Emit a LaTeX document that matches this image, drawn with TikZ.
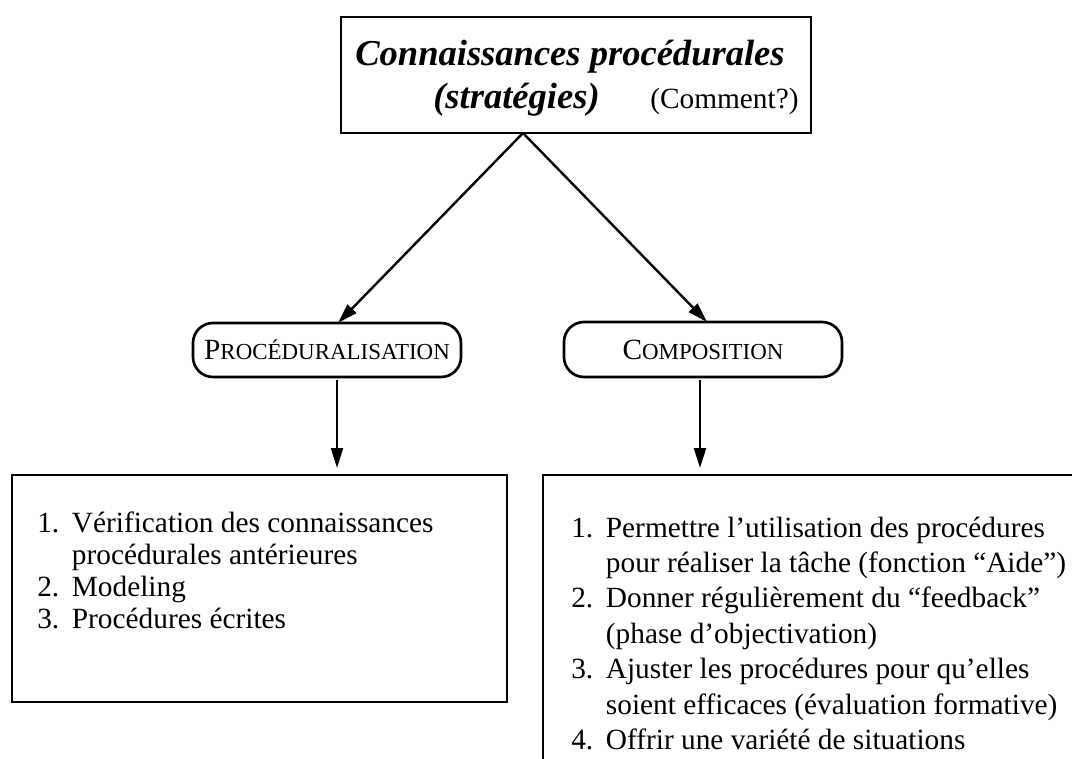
\documentclass[tikz,border=0pt]{standalone}
\usepackage{fontspec}
\setmainfont{Liberation Serif}
\usetikzlibrary{arrows.meta}
\newlength\px \setlength\px{0.75pt}
\newcommand\myitm[1]{\makebox[26pt][l]{#1}}
\newcommand\mytitlefont{\fontsize{27.4}{32}\selectfont\bfseries\itshape}
\newcommand\mybodyfont{\fontsize{22}{24}\selectfont}
\newcommand\myrfont{\fontsize{22}{26.6}\selectfont}
\newcommand\mysc{\fontsize{17.2}{20}\selectfont}
\begin{document}
\begin{tikzpicture}[x=0.75pt,y=-0.75pt,
  box/.style={draw, line width=2.2pt, inner sep=0pt, outer sep=0pt},
  pill/.style={draw, line width=2pt, rounded corners=15pt, inner sep=0pt, outer sep=0pt, font=\mybodyfont},
  arr/.style={line width=1.8pt, -{Triangle[length=15pt,width=9pt]}},
  txt/.style={inner sep=0pt, anchor=base west},
]
\useasboundingbox (0,0) rectangle (1072,758);
\clip (0,0) rectangle (1072,758);
% top box
\node[box, minimum width=470\px, minimum height=116\px] (top) at (576,75) {};
\node[txt, anchor=base, font=\mytitlefont] (t1) at (570,65) {Connaissances procédurales};
\node[txt, font=\mytitlefont] (t2) at (433,108) {(stratégies)};
\node[txt, font=\mybodyfont] (t3) at (650,108) {(Comment?)};
% pills
\node[pill, minimum width=268\px, minimum height=54\px] (proc) at (327,350) {P{\mysc ROCÉDURALISATION}};
\node[pill, minimum width=278\px, minimum height=55\px] (comp) at (703,349.5) {C{\mysc OMPOSITION}};
% diagonal arrows
\coordinate (apex) at (523,133);
\draw[arr] (apex) -- ([xshift=11\px]proc.north);
\draw[arr] (apex) -- ([xshift=4\px]comp.north);
% bottom boxes
\node[box, minimum width=495\px, minimum height=227\px] (lbox) at (259.5,588.5) {};
\node[box, minimum width=557\px, minimum height=315\px] (rbox) at (821.5,632.5) {};
% down arrows
\coordinate (d1) at ([xshift=10\px,yshift=-3\px]proc.south);
\draw[arr, shorten >=7\px] (d1) -- (d1 |- lbox.north);
\coordinate (d2) at ([xshift=-3\px,yshift=-3\px]comp.south);
\draw[arr, shorten >=7\px] (d2) -- (d2 |- rbox.north);
% texts
\node[txt, font=\mybodyfont] (ltext) at (37,532) {\begin{tabular}[t]{@{}l@{}}
\myitm{1.}Vérification des connaissances\\
\myitm{}procédurales antérieures\\
\myitm{2.}Modeling\\
\myitm{3.}Procédures écrites
\end{tabular}};
\node[txt, font=\myrfont] (rtext) at (571,537) {\begin{tabular}[t]{@{}l@{}}
\myitm{1.}Permettre l’utilisation des procédures\\
\myitm{}pour réaliser la tâche (fonction “Aide”)\\
\myitm{2.}Donner régulièrement du “feedback”\\
\myitm{}(phase d’objectivation)\\
\myitm{3.}Ajuster les procédures pour qu’elles\\
\myitm{}soient efficaces (évaluation formative)\\
\myitm{4.}Offrir une variété de situations
\end{tabular}};
\end{tikzpicture}
\end{document}
